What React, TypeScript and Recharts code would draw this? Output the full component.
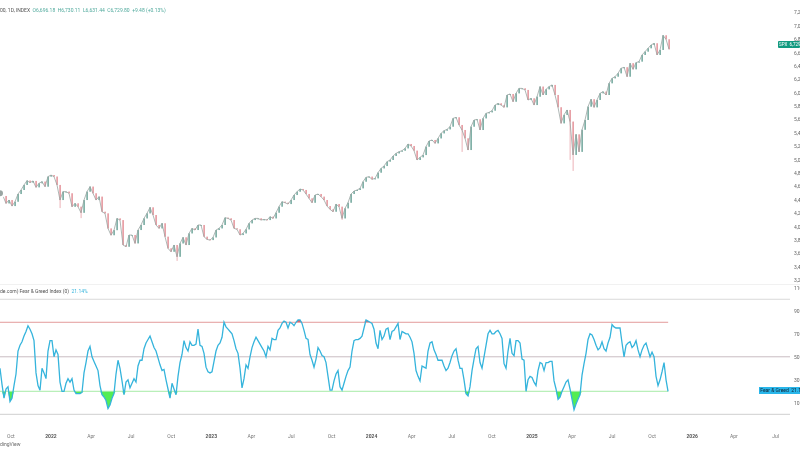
import {
  ComposedChart,
  Bar,
  Line,
  Area,
  XAxis,
  YAxis,
  ReferenceLine,
} from "recharts";

// ─── Data ─────────────────────────────────────────────────────────────────────

// index closes, one candle per week or so
const closes = [
  4500, 4460, 4350, 4400, 4310, 4375, 4490, 4550, 4625, 4690, 4660, 4685, 4590, 4650, 4675, 4600,
  4750, 4773, 4750, 4625, 4400, 4525, 4525, 4500, 4300, 4350, 4300, 4210, 4400, 4525, 4600, 4500,
  4400, 4450, 4225, 4200, 3975, 3875, 3950, 4125, 4100, 3728, 3703, 3877, 3877, 3753, 3952, 4027,
  4126, 4201, 4290, 4176, 4027, 3977, 4052, 3852, 3678, 3628, 3728, 3553, 3752, 3842, 3728, 3902,
  3977, 3952, 4027, 4027, 3852, 3812, 3802, 3842, 3952, 3977, 4027, 4136, 4126, 4101, 3977, 3962,
  3877, 3902, 3962, 4052, 4101, 4126, 4126, 4101, 4111, 4101,
  4151, 4126, 4211, 4301, 4375, 4360, 4340, 4400, 4475, 4525, 4565, 4550, 4490, 4425, 4360, 4475,
  4490, 4450, 4400, 4310, 4261, 4226, 4340, 4300, 4126, 4276, 4360, 4490, 4535, 4550, 4575, 4674,
  4739, 4749, 4709, 4724, 4809, 4873, 4908, 4973, 4998, 5058, 5097, 5122, 5137, 5172, 5237, 5207,
  5137, 4998, 5038, 5072, 5197, 5282, 5297, 5247, 5321, 5396, 5436, 5456, 5496, 5620, 5635, 5521,
  5446, 5321, 5147, 5496, 5595, 5605, 5446, 5620, 5695, 5710, 5735, 5819, 5844, 5819, 5785, 5969,
  5984, 5869, 5994, 6068, 6068, 6044, 5894, 5919, 5819, 5944,
  6094, 5969, 6054, 6094, 6119, 5969, 5785, 5546, 5671, 5745, 5571, 5074, 5380, 5120, 5450, 5596,
  5795, 5905, 5785, 5895, 5994, 6019, 5969, 6144, 6218, 6243, 6293, 6368, 6383, 6243, 6443, 6353,
  6453, 6468, 6567, 6617, 6667, 6716, 6741, 6567, 6642, 6860, 6800, 6652,
];

// candle index, low of the long lower wicks
const lowWicks = [
  [20, 4280],
  [27, 4130],
  [59, 3491],
  [114, 4103],
  [190, 5000],
  [191, 4835],
  [154, 5119],
];

// Fear & Greed readings
const fearGreed = [
  40, 26, 14, 22, 24, 11, 14, 25, 35, 55, 60, 63, 68, 72, 77, 74, 70, 64, 36, 25, 21, 40, 36, 31, 55,
  64, 64, 50, 56, 52, 28, 20, 20, 27, 31, 28, 31, 21, 18, 18, 18, 19, 36, 45, 55, 59, 50, 46, 42, 38,
  25, 17, 15, 12, 5, 8, 14, 18, 35, 47, 40, 29, 17, 28, 30, 23, 27, 31, 28, 42, 47, 47, 57, 62, 65,
  68, 63, 58, 55, 49, 43, 38, 39, 30, 22, 14, 27, 22, 17, 33, 45, 52, 64, 58, 55, 63, 60, 60, 61, 74,
  60, 59, 53, 41, 37, 36, 37, 46, 55, 60, 62, 67, 80, 76, 74, 72, 70, 64, 57, 53, 40, 23, 31, 43, 40,
  50, 58, 63, 67, 64, 61, 58, 55, 50, 59,
  56, 66, 65, 65, 73, 75, 79, 81, 80, 75, 80, 79, 77, 80, 82, 82, 79, 73, 66, 65, 52, 47, 41, 48, 58,
  55, 51, 50, 45, 33, 21, 21, 29, 35, 38, 24, 21, 27, 33, 38, 41, 55, 64, 65, 65, 66, 68, 75, 82, 81,
  80, 79, 74, 62, 57, 73, 65, 68, 74, 75, 65, 72, 73, 76, 79, 65, 72, 71, 70, 70, 67, 63, 53, 38, 33,
  29, 42, 41, 40, 55, 62, 63, 56, 52, 47, 47, 47, 42, 38, 40, 45, 51, 55, 57, 47, 40, 40, 30, 18, 16,
  24, 38, 48, 57, 59, 45, 40, 50, 60, 70, 73, 70, 70, 72, 73, 70, 66, 44, 40, 55, 66, 53, 51, 64, 64,
  62, 48, 47, 20, 30, 33, 32, 28, 25, 38,
  45, 44, 38, 45, 45, 46, 46, 29, 22, 13, 15, 20, 24, 28, 30, 22, 13, 4, 9, 13, 17, 34, 44, 53, 65,
  70, 69, 65, 60, 56, 58, 63, 57, 55, 62, 67, 78, 76, 75, 75, 75, 62, 50, 60, 62, 63, 58, 60, 64, 56,
  50, 56, 60, 62, 56, 50, 54, 50, 33, 25, 30, 37, 45, 30, 20,
];

const priceTicks = [
  3200, 3400, 3600, 3800, 4000, 4200, 4400, 4600, 4800, 5000, 5200, 5400, 5600, 5800, 6000, 6200,
  6400, 6600, 6800, 7000, 7200,
];
const fgTicks = [10, 30, 50, 70, 90, 110];

const timeTicks = [
  2021.75, 2022, 2022.25, 2022.5, 2022.75, 2023, 2023.25, 2023.5, 2023.75, 2024, 2024.25, 2024.5,
  2024.75, 2025, 2025.25, 2025.5, 2025.75, 2026, 2026.26, 2026.52,
];
const timeLabels = [
  "Oct", "2022", "Apr", "Jul", "Oct", "2023", "Apr", "Jul", "Oct", "2024", "Apr", "Jul",
  "Oct", "2025", "Apr", "Jul", "Oct", "2026", "Apr", "Jul",
];

const startYear = 2021.682;
const endYear = 2026.61;
const lastYear = 2025.85;
const candleStep = 3 / 160.3;
const fgStep = 2 / 160.3;

const candles = closes.map((close, i) => {
  const open = i === 0 ? close : closes[i - 1];
  const wick = lowWicks.find((w) => w[0] === i);
  const low = wick ? wick[1] : Math.min(open, close);
  return {
    t: startYear + i * candleStep,
    open,
    close,
    hl: [low, Math.max(open, close) + 1],
  };
});

const fgRows = fearGreed.map((v, i) => ({
  t: startYear + i * fgStep,
  v,
  fear: [Math.min(v, 20), 20],
  greed: [80, Math.max(v, 80)],
}));

// ─── Pieces ───────────────────────────────────────────────────────────────────

const FONT = "Roboto, 'Open Sans', sans-serif";

function Candle(props: any) {
  const { x, y, width, height, payload } = props;
  const [low, high] = payload.hl;
  const unit = height / (high - low);
  const up = payload.close >= payload.open;
  const color = up ? "#6ba398" : "#e38f96";
  const top = y + (high - Math.max(payload.open, payload.close)) * unit;
  const bottom = y + (high - Math.min(payload.open, payload.close)) * unit;
  const cx = x + width / 2;
  return (
    <g>
      <line x1={cx} x2={cx} y1={y} y2={y + height} stroke={color} strokeWidth={0.7} />
      <rect x={x} y={top} width={width} height={Math.max(bottom - top, 1)} fill={color} />
    </g>
  );
}

function TimeTick(props: any) {
  const { x, y, index } = props;
  const label = timeLabels[index];
  const isYear = label.length === 4;
  return (
    <text
      x={x}
      y={y}
      textAnchor="middle"
      fontSize={5}
      fontFamily={FONT}
      fontWeight={isYear ? 700 : 400}
      fill={isYear ? "#555" : "#777"}
    >
      {label}
    </text>
  );
}

const axisTick = { fontSize: 5, fill: "#666", fontFamily: FONT };

// ─── Component ────────────────────────────────────────────────────────────────

export default function App() {
  return (
    <div
      style={{
        position: "absolute",
        left: 0,
        top: 0,
        width: 800,
        height: 450,
        overflow: "hidden",
        background: "#fff",
        fontFamily: FONT,
        filter: "blur(0.4px)",
      }}
    >
      <ComposedChart
        width={800}
        height={285}
        data={candles}
        margin={{ top: 0, right: 0, bottom: 0, left: 0 }}
        style={{ position: "absolute", left: 0, top: 0 }}
      >
        <XAxis
          dataKey="t"
          type="number"
          domain={[startYear, endYear]}
          allowDataOverflow
          hide
        />
        <YAxis
          orientation="right"
          width={10}
          domain={[3131, 7388]}
          allowDataOverflow
          ticks={priceTicks}
          interval={0}
          tickFormatter={(v: number) => v.toLocaleString("en-US")}
          tick={axisTick}
          axisLine={false}
          tickLine={false}
          tickSize={0}
          tickMargin={4}
        />
        <Line
          dataKey="close"
          stroke="#9aa5a2"
          strokeWidth={0.8}
          dot={false}
          isAnimationActive={false}
        />
        <Bar dataKey="hl" barSize={1.2} shape={Candle} isAnimationActive={false} />
      </ComposedChart>

      <ComposedChart
        width={800}
        height={160}
        data={fgRows}
        margin={{ top: 0, right: 0, bottom: 0, left: 0 }}
        style={{ position: "absolute", left: 0, top: 285 }}
      >
        <XAxis
          dataKey="t"
          type="number"
          domain={[startYear, endYear]}
          allowDataOverflow
          ticks={timeTicks}
          interval={0}
          tick={TimeTick}
          axisLine={false}
          tickLine={false}
          height={20}
          tickMargin={7}
        />
        <YAxis
          orientation="right"
          width={10}
          domain={[-9.3, 112.4]}
          allowDataOverflow
          ticks={fgTicks}
          interval={0}
          tick={axisTick}
          axisLine={false}
          tickLine={false}
          tickSize={0}
          tickMargin={4}
        />
        <ReferenceLine y={100} stroke="#d9d9d9" strokeWidth={1} />
        <ReferenceLine y={0} stroke="#cfcfcf" strokeWidth={1} />
        <ReferenceLine y={50} stroke="#c9bcc2" strokeWidth={1} />
        <ReferenceLine
          segment={[{ x: startYear, y: 80 }, { x: lastYear, y: 80 }]}
          stroke="#e39a9a"
          strokeWidth={1}
        />
        <ReferenceLine
          segment={[{ x: startYear, y: 20 }, { x: lastYear, y: 20 }]}
          stroke="#a6eba6"
          strokeWidth={1}
        />
        <Line
          dataKey="v"
          stroke="#35b4dc"
          strokeWidth={1.3}
          dot={false}
          isAnimationActive={false}
        />
        <Area
          dataKey="fear"
          stroke="none"
          fill="#35ea35"
          fillOpacity={0.85}
          isAnimationActive={false}
        />
        <Area
          dataKey="greed"
          stroke="none"
          fill="#d9434e"
          fillOpacity={0.9}
          isAnimationActive={false}
        />
      </ComposedChart>

      <div style={{ position: "absolute", left: 0, top: 6.5, fontSize: 5, lineHeight: "7px", whiteSpace: "pre", color: "#555" }}>
        00, 1D, INDEX{"  "}
        <span style={{ color: "#4fa99c" }}>
          O6,696.18{"  "}H6,730.11{"  "}L6,631.44{"  "}C6,729.80{"  "}+9.48 (+0.13%)
        </span>
      </div>

      <div style={{ position: "absolute", left: 0, top: 287.5, fontSize: 5, lineHeight: "7px", whiteSpace: "pre", color: "#555" }}>
        de.com) Fear &amp; Greed Index (0){"  "}
        <span style={{ color: "#35b4dc" }}>21.14%</span>
      </div>

      <div style={{ position: "absolute", left: 0, top: 440.5, fontSize: 5, lineHeight: "7px", color: "#666" }}>
        dingView
      </div>

      <div style={{ position: "absolute", left: 0, top: 284, width: 800, height: 1, background: "#f1f1f1" }} />

      <div style={{ position: "absolute", left: 778, top: 41, width: 22, height: 7, background: "#129a80", color: "#fff", fontSize: 4.5, lineHeight: "7px", whiteSpace: "pre", borderRadius: 1 }}>
        {" SPX  6,729"}
      </div>

      <div style={{ position: "absolute", left: 759, top: 386.5, width: 41, height: 7, background: "#29b6ea", color: "#123", fontSize: 5, lineHeight: "7px", whiteSpace: "pre" }}>
        {" Fear & Greed  21.14"}
      </div>
    </div>
  );
}
